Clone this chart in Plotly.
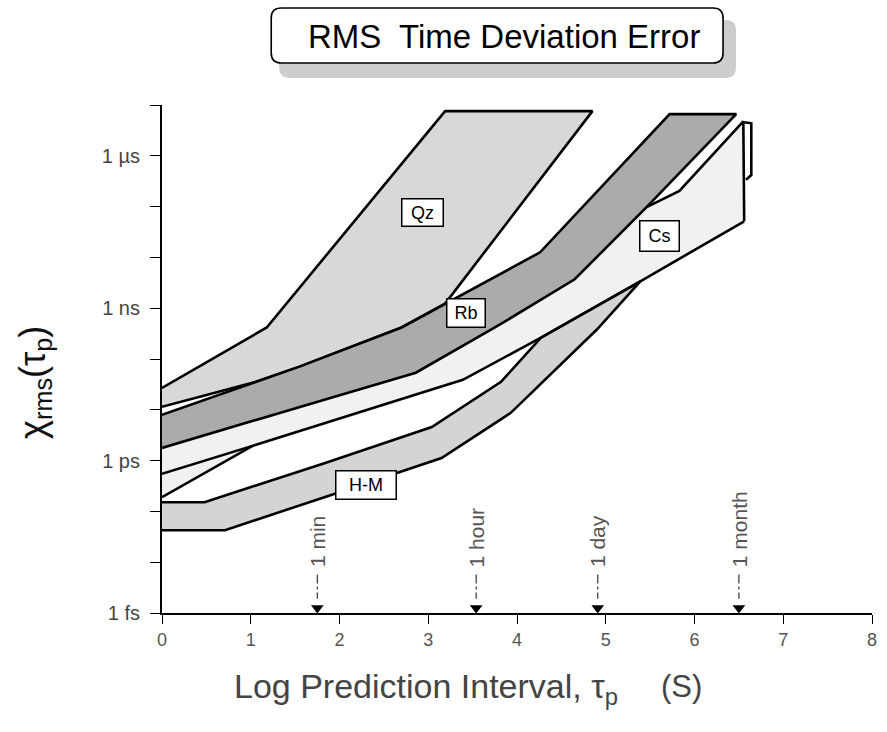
import plotly.graph_objects as go

# ---------------- data (x: log10 prediction interval [s], y: log10 rms time error [s]) ----------------
qz_upper_x = [0.0, 1.18, 3.19]
qz_upper_y = [-10.57, -9.38, -5.12]
qz_lower_x = [0.0, 1.04, 1.55, 2.70, 3.19, 4.85]
qz_lower_y = [-10.94, -10.46, -10.15, -9.38, -8.91, -5.12]

rb_upper_x = [0.0, 1.04, 1.55, 2.70, 3.19, 4.26, 5.72]
rb_upper_y = [-11.10, -10.46, -10.15, -9.38, -8.91, -7.90, -5.18]
rb_lower_x = [0.0, 1.83, 2.86, 3.79, 4.65, 5.46, 6.47]
rb_lower_y = [-11.75, -10.80, -10.27, -9.34, -8.43, -7.01, -5.18]

cs_upper_x = [5.46, 5.83, 6.55]
cs_upper_y = [-7.01, -6.69, -5.32]
cs_lower_x = [0.0, 1.02, 3.39, 4.27, 5.39, 6.56]
cs_lower_y = [-12.72, -11.71, -10.41, -9.58, -8.47, -7.29]
cs_inner_x = [0.0, 1.02]
cs_inner_y = [-12.26, -11.71]
cs_tab_x = [6.56, 6.64, 6.64, 6.58]
cs_tab_y = [-5.34, -5.36, -6.38, -6.47]

hm_upper_x = [0.0, 0.48, 1.83, 3.04, 3.82, 4.27]
hm_upper_y = [-12.82, -12.82, -12.05, -11.34, -10.45, -9.58]
hm_lower_x = [0.0, 0.71, 1.83, 3.15, 3.93, 4.90, 5.39]
hm_lower_y = [-13.37, -13.37, -12.72, -11.95, -11.06, -9.42, -8.47]

band_names = ["Qz", "Rb", "Cs", "H-M"]
label_x = [2.93, 3.42, 5.61, 2.30]
label_y = [-7.11, -9.09, -7.58, -12.48]
label_w = [38, 35, 36, 57]
label_h = [24, 25, 27, 25]

event_names = ["1 min", "1 hour", "1 day", "1 month"]
event_x = [1.75, 3.54, 4.91, 6.50]

x_ticks = [0, 1, 2, 3, 4, 5, 6, 7, 8]
y_major = [-15, -12, -9, -6]
y_major_text = ["1 fs", "1 ps", "1 ns", "1 µs"]

# ---------------- layout geometry ----------------
W, H = 887, 732
ML, MR, MT, MB = 162, 10, 105, 119
PW, PH = W - ML - MR, H - MT - MB


def pxx(x):
    return (x - ML) / PW


def pxy(y):
    return (H - MB - y) / PH


def rrect(x0, y0, x1, y1, r):
    pts = [
        ("M", [(x0 + r, y0)]), ("L", [(x1 - r, y0)]), ("Q", [(x1, y0), (x1, y0 + r)]),
        ("L", [(x1, y1 - r)]), ("Q", [(x1, y1), (x1 - r, y1)]), ("L", [(x0 + r, y1)]),
        ("Q", [(x0, y1), (x0, y1 - r)]), ("L", [(x0, y0 + r)]), ("Q", [(x0, y0), (x0 + r, y0)]),
    ]
    s = ""
    for cmd, ps in pts:
        s += cmd + " ".join(f"{pxx(a):.5f},{pxy(b):.5f}" for a, b in ps) + " "
    return s + "Z"


LINE = dict(color="black", width=2.6)
FONT = "Liberation Sans, Arial, sans-serif"
fig = go.Figure()

# Cs band (lightest, no outline)
cs_poly_x = rb_lower_x[:6] + cs_upper_x[1:] + cs_lower_x[::-1]
cs_poly_y = rb_lower_y[:6] + cs_upper_y[1:] + cs_lower_y[::-1]
fig.add_trace(go.Scatter(x=cs_poly_x, y=cs_poly_y, fill="toself", fillcolor="#f1f1f1",
                         line=dict(width=0), mode="lines", hoverinfo="skip", showlegend=False))

# Qz band
fig.add_trace(go.Scatter(x=qz_upper_x + qz_lower_x[::-1], y=qz_upper_y + qz_lower_y[::-1],
                         fill="toself", fillcolor="#d8d8d8", line=LINE, mode="lines",
                         hoverinfo="skip", showlegend=False))
# Rb band
fig.add_trace(go.Scatter(x=rb_upper_x + rb_lower_x[::-1], y=rb_upper_y + rb_lower_y[::-1],
                         fill="toself", fillcolor="#ababab", line=LINE, mode="lines",
                         hoverinfo="skip", showlegend=False))
# H-M band
hm_px = hm_upper_x + [cs_lower_x[4]] + hm_lower_x[::-1]
hm_py = hm_upper_y + [cs_lower_y[4]] + hm_lower_y[::-1]
fig.add_trace(go.Scatter(x=hm_px, y=hm_py, fill="toself", fillcolor="#d4d4d4", line=LINE,
                         mode="lines", hoverinfo="skip", showlegend=False))

# Cs outlines
for xs, ys in [
    (cs_lower_x, cs_lower_y),
    (cs_inner_x, cs_inner_y),
    (cs_upper_x + [cs_lower_x[-1]], cs_upper_y + [cs_lower_y[-1]]),
    (cs_tab_x, cs_tab_y),
]:
    fig.add_trace(go.Scatter(x=xs, y=ys, mode="lines", line=LINE, hoverinfo="skip",
                             showlegend=False))

# Event arrows
y_axis_bottom = y_major[0]
fig.add_trace(go.Scatter(x=event_x, y=[y_axis_bottom + 0.1] * len(event_x), mode="markers",
                         marker=dict(symbol="triangle-down", size=11, color="black"),
                         hoverinfo="skip", showlegend=False, cliponaxis=False))

shapes = []
annotations = []
for ex, name in zip(event_x, event_names):
    shapes.append(dict(type="line", xref="x", yref="y", x0=ex, x1=ex, y0=y_axis_bottom + 0.76,
                       y1=y_axis_bottom + 0.28, line=dict(color="#333", width=1.2, dash="dashdot")))
    annotations.append(dict(x=ex, y=y_axis_bottom + 0.86, xref="x", yref="y", text=name,
                            textangle=-90, showarrow=False, xanchor="center", yanchor="bottom",
                            font=dict(family=FONT, size=21, color="#555")))

# Band labels
for name, lx, ly, lw, lh in zip(band_names, label_x, label_y, label_w, label_h):
    annotations.append(dict(x=lx, y=ly, xref="x", yref="y", text=name, showarrow=False,
                            bgcolor="white", bordercolor="black", borderwidth=1.5, borderpad=1,
                            width=lw, height=lh,
                            font=dict(family=FONT, size=18, color="black")))

# Title box with shadow
shapes.append(dict(type="path", xref="paper", yref="paper", path=rrect(280, 20, 740, 78, 10),
                   fillcolor="#cdcdcd", line=dict(width=0), layer="below"))
shapes.append(dict(type="path", xref="paper", yref="paper", path=rrect(272, 8, 727, 63, 10),
                   fillcolor="white", line=dict(color="black", width=1.6), layer="below"))
annotations.append(dict(x=pxx(506), y=pxy(36), xref="paper", yref="paper",
                        text="RMS\u00a0 Time Deviation Error", showarrow=False,
                        xanchor="center", yanchor="middle",
                        font=dict(family=FONT, size=33, color="black")))

# Axis titles
annotations.append(dict(x=pxx(232), y=pxy(688), xref="paper", yref="paper",
                        text="Log Prediction Interval, τ<sub>p</sub>", showarrow=False,
                        xanchor="left", yanchor="middle",
                        font=dict(family=FONT, size=34, color="#444")))
annotations.append(dict(x=pxx(685), y=pxy(686), xref="paper", yref="paper",
                        text="(S)", showarrow=False, xanchor="center", yanchor="middle",
                        font=dict(family=FONT, size=31, color="#444")))
annotations.append(dict(x=pxx(34), y=pxy(382), xref="paper", yref="paper",
                        text="χ<sub>rms</sub>(τ<sub>p</sub>)", showarrow=False, textangle=-90,
                        xanchor="center", yanchor="middle",
                        font=dict(family=FONT, size=36, color="#111")))

fig.update_layout(
    width=W, height=H, autosize=False,
    margin=dict(l=ML, r=MR, t=MT, b=MB, pad=0),
    paper_bgcolor="white", plot_bgcolor="white",
    shapes=shapes, annotations=annotations, showlegend=False,
    xaxis=dict(range=[0, 8], tickmode="array", tickvals=x_ticks,
               ticktext=[str(t) for t in x_ticks], ticks="outside", ticklen=9, tickwidth=1.4,
               tickcolor="black", showline=True, linecolor="black", linewidth=2,
               showgrid=False, zeroline=False,
               tickfont=dict(family=FONT, size=18, color="#555")),
    yaxis=dict(range=[-15, -5], tickmode="array", tickvals=y_major,
               ticktext=y_major_text, ticks="outside", ticklen=10,
               tickwidth=1.4, tickcolor="black", showline=True, linecolor="black", linewidth=2,
               showgrid=False, zeroline=False, ticklabelstandoff=6,
               minor=dict(ticks="outside", tick0=-15, dtick=1, ticklen=10, tickwidth=1.4,
                          tickcolor="black", showgrid=False),
               tickfont=dict(family=FONT, size=20, color="#444")),
)

fig.write_html("out.html", config={"displayModeBar": False},
               post_script="document.body.style.margin='0px';")
